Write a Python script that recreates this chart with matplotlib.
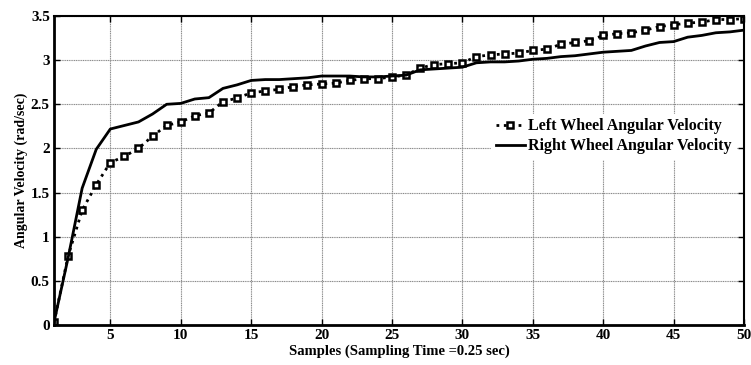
import matplotlib
matplotlib.use("Agg")
import matplotlib.pyplot as plt
import numpy as np

samples = list(range(1, 51))
left_wheel = [0.03, 0.78, 1.30, 1.59, 1.84, 1.91, 2.00, 2.14, 2.26, 2.30,
              2.37, 2.40, 2.53, 2.57, 2.63, 2.65, 2.67, 2.70, 2.72, 2.73,
              2.74, 2.77, 2.79, 2.79, 2.81, 2.83, 2.91, 2.95, 2.96, 2.97,
              3.04, 3.06, 3.07, 3.08, 3.11, 3.125, 3.18, 3.20, 3.22, 3.28,
              3.30, 3.31, 3.34, 3.38, 3.40, 3.42, 3.43, 3.46, 3.46, 3.47]
right_wheel = [0.03, 0.76, 1.55, 1.99, 2.22, 2.26, 2.30, 2.39, 2.50, 2.51,
               2.56, 2.575, 2.68, 2.72, 2.77, 2.78, 2.78, 2.79, 2.80, 2.82,
               2.82, 2.82, 2.81, 2.81, 2.82, 2.83, 2.89, 2.90, 2.91, 2.92,
               2.97, 2.98, 2.98, 2.99, 3.01, 3.02, 3.04, 3.05, 3.07, 3.09,
               3.10, 3.11, 3.16, 3.20, 3.21, 3.26, 3.28, 3.31, 3.32, 3.34]
xticks = [5, 10, 15, 20, 25, 30, 35, 40, 45, 50]
yticks = [0, 0.5, 1, 1.5, 2, 2.5, 3, 3.5]
ytick_labels = ["0", "0.5", "1", "1.5", "2", "2.5", "3", "3.5"]

plt.rcParams['font.family'] = ['Liberation Serif', 'DejaVu Serif']
plt.rcParams['font.weight'] = 'bold'

fig = plt.figure(figsize=(7.51, 3.65), dpi=100)
ax = fig.add_axes([54/751, 40/365, 690/751, 309/365])

ax.plot(samples, left_wheel, linestyle=':', color='black', linewidth=2,
        marker='s', markersize=4, markerfacecolor='white',
        markeredgecolor='black', markeredgewidth=1.8,
        label='Left Wheel Angular Velocity')
ax.plot(samples, right_wheel, linestyle='-', color='black', linewidth=2,
        label='Right Wheel Angular Velocity')

ax.set_xlim(1, 50)
ax.set_ylim(0, 3.5)
ax.set_xticks(xticks)
ax.set_yticks(yticks)
ax.set_yticklabels(ytick_labels)
ax.tick_params(direction='in', top=True, right=True, labelsize=11, length=4,
               width=1, pad=3)
for lab in ax.get_xticklabels() + ax.get_yticklabels():
    lab.set_fontweight('bold')
ax.grid(True, color='#8a8a8a', linestyle=(0, (1, 0.6)), linewidth=0.8)
for s in ['left', 'bottom']:
    ax.spines[s].set_linewidth(2)
for s in ['top', 'right']:
    ax.spines[s].set_linewidth(1.5)

ax.set_xlabel('Samples (Sampling Time =0.25 sec)', fontsize=10.5, fontweight='bold', labelpad=2)
ax.set_ylabel('Angular Velocity (rad/sec)', fontsize=10, fontweight='bold', labelpad=2)

leg = ax.legend(loc='upper right', bbox_to_anchor=(1.0, 0.71), frameon=True,
                fancybox=False, edgecolor='white', framealpha=1,
                prop={'size': 11.5, 'weight': 'bold'}, handlelength=1.8,
                handletextpad=0.2, borderpad=0.3, labelspacing=0.25)

fig.savefig('out.png', dpi=100)
